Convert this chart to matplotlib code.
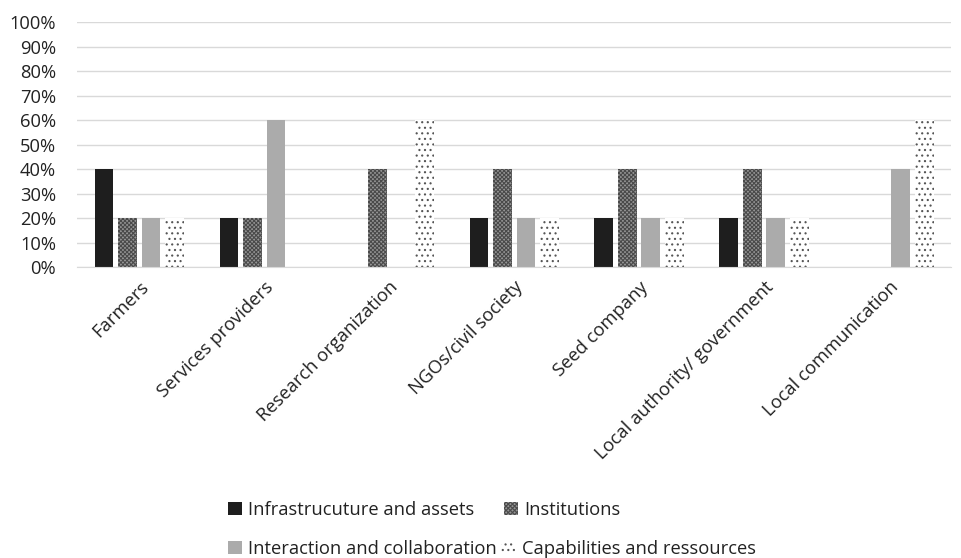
import matplotlib
matplotlib.use("Agg")
import matplotlib.pyplot as plt
import numpy as np

categories = ["Farmers", "Services providers", "Research organization", "NGOs/civil society",
              "Seed company", "Local authority/ government", "Local communication"]
series_names = ["Infrastrucuture and assets", "Institutions",
                "Interaction and collaboration", "Capabilities and ressources"]
infra = [40, 20, 0, 20, 20, 20, 0]
institutions = [20, 20, 40, 40, 40, 40, 0]
interaction = [20, 60, 0, 20, 20, 20, 40]
capabilities = [20, 0, 60, 20, 20, 20, 60]
yticks = [0, 10, 20, 30, 40, 50, 60, 70, 80, 90, 100]

plt.rcParams['font.family'] = ['Open Sans', 'DejaVu Sans']
plt.rcParams['hatch.linewidth'] = 0.8
FS = 13.2

fig = plt.figure(figsize=(9.61, 5.58), dpi=100)
ax = fig.add_axes([0.080, 0.5215, 0.910, 0.439])

x = np.arange(len(categories))
w = 0.15
step = 0.188
styles = [
    dict(facecolor="#1e1e1e", edgecolor="#1e1e1e", hatch=None),
    dict(facecolor="#959595", edgecolor="#4a4a4a", hatch="xxxxxxxx"),
    dict(facecolor="#ababab", edgecolor="#ababab", hatch=None),
    dict(facecolor="white", edgecolor="#555555", hatch="..."),
]
data = [infra, institutions, interaction, capabilities]
handles = []
for i, (vals, st, name) in enumerate(zip(data, styles, series_names)):
    offs = (i - 1.5) * step
    b = ax.bar(x + offs, vals, width=w, label=name, linewidth=0, **st)
    handles.append(b)

ax.set_ylim(0, 100)
ax.set_xlim(-0.5, len(categories) - 0.5)
ax.set_yticks(yticks)
ax.set_yticklabels([f"{v}%" for v in yticks], fontsize=FS, color="#222222")
ax.set_xticks(x)
ax.set_xticklabels(categories, rotation=45, ha="right", rotation_mode="anchor",
                   fontsize=FS, color="#222222")
ax.tick_params(axis="y", length=0, pad=15)
ax.tick_params(axis="x", length=0, pad=8)
ax.grid(axis="y", color="#d9d9d9", linewidth=1)
ax.set_axisbelow(True)
for s in ["top", "right", "left"]:
    ax.spines[s].set_visible(False)
ax.spines["bottom"].set_color("#d9d9d9")

common = dict(ncol=2, loc="center left", frameon=False, fontsize=FS,
              handlelength=0.75, handleheight=0.75, handletextpad=0.35,
              borderpad=0, borderaxespad=0)
leg1 = fig.legend(handles=[handles[0], handles[1]], labels=[series_names[0], series_names[1]],
                  bbox_to_anchor=(228 / 961, 1 - 510 / 558), columnspacing=1.6, **common)
leg2 = fig.legend(handles=[handles[2], handles[3]], labels=[series_names[2], series_names[3]],
                  bbox_to_anchor=(228 / 961, 1 - 549 / 558), columnspacing=0.25, **common)
for leg in (leg1, leg2):
    for t in leg.get_texts():
        t.set_color("#222222")

fig.savefig("out.png", dpi=100)
